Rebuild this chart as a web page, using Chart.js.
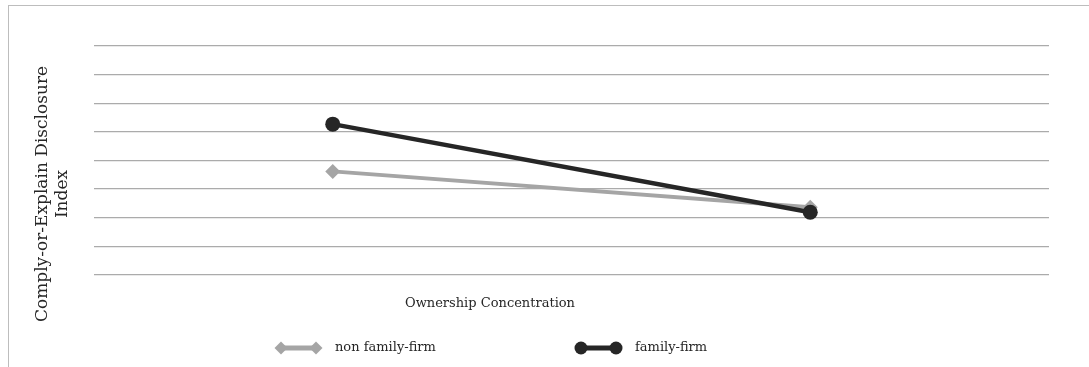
<!DOCTYPE html>
<html>
<head>
<meta charset="utf-8">
<script src="https://cdn.jsdelivr.net/npm/chart.js@4"></script>
<style>
    html, body { margin: 0; padding: 0; background: #ffffff; }
    #wrap { position: relative; width: 1089px; height: 367px; overflow: hidden; }
    #frame {
        position: absolute; left: 8px; top: 5px; width: 1200px; height: 500px;
        border-top: 1.5px solid #bdbdbd; border-left: 1.5px solid #bdbdbd;
    }
    canvas { position: absolute; left: 0; top: 0; }
</style>
</head>
<body>
<div id="wrap">
    <div id="frame"></div>
    <canvas id="grafico" width="1089" height="367"></canvas>
</div>
<script>
// ==========================================
// DADOS
// ==========================================
const categorias = ['Low', 'High'];
const naoFamiliar = [3.62, 2.37];
const familiar = [5.27, 2.19];
const nomesSeries = ['non family-firm', 'family-firm'];
const tituloY = ['Comply-or-Explain Disclosure', 'Index'];
const tituloX = 'Ownership Concentration';

const fonte = '"DejaVu Serif", "Liberation Serif", serif';
const corTexto = '#262626';

// Titulos e legenda desenhados a mao (estilo Excel)
const extras = {
    id: 'extras',
    afterDraw(chart) {
        const ctx = chart.ctx;
        ctx.save();
        ctx.fillStyle = corTexto;
        ctx.textAlign = 'center';
        ctx.textBaseline = 'middle';

        // titulo do eixo Y (girado)
        ctx.font = '17px ' + fonte;
        ctx.save();
        ctx.translate(43, 194);
        ctx.rotate(-Math.PI / 2);
        ctx.fillText(tituloY[0], 0, 0);
        ctx.fillText(tituloY[1], 0, 20);
        ctx.restore();

        // titulo do eixo X
        ctx.font = '13px ' + fonte;
        ctx.fillText(tituloX, 490, 304);

        // legenda
        const itens = chart.data.datasets;
        const posX = [275, 575];
        ctx.textAlign = 'left';
        itens.forEach((ds, i) => {
            const x0 = posX[i], y = 348;
            ctx.strokeStyle = ds.borderColor;
            ctx.lineWidth = 5;
            ctx.beginPath();
            ctx.moveTo(x0 + 6, y);
            ctx.lineTo(x0 + 41, y);
            ctx.stroke();
            ctx.fillStyle = ds.borderColor;
            [x0 + 6, x0 + 41].forEach(cx => {
                ctx.beginPath();
                if (ds.pointStyle === 'circle') {
                    ctx.arc(cx, y, 6.5, 0, Math.PI * 2);
                } else {
                    ctx.moveTo(cx, y - 6.5); ctx.lineTo(cx + 6.5, y);
                    ctx.lineTo(cx, y + 6.5); ctx.lineTo(cx - 6.5, y);
                    ctx.closePath();
                }
                ctx.fill();
            });
            ctx.fillStyle = corTexto;
            ctx.fillText(ds.label, x0 + 60, y);
        });
        ctx.restore();
    }
};

const ctxGrafico = document.getElementById('grafico').getContext('2d');
new Chart(ctxGrafico, {
    type: 'line',
    data: {
        labels: categorias,
        datasets: [
            {
                label: nomesSeries[0], data: naoFamiliar,
                borderColor: '#a5a5a5', backgroundColor: '#a5a5a5',
                borderWidth: 4, pointStyle: 'rectRot', pointRadius: 7.5,
                pointBorderWidth: 0, order: 1
            },
            {
                label: nomesSeries[1], data: familiar,
                borderColor: '#262626', backgroundColor: '#262626',
                borderWidth: 4.5, pointStyle: 'circle', pointRadius: 7.5,
                pointBorderWidth: 0, order: 0
            }
        ]
    },
    options: {
        responsive: false, animation: false,
        layout: { padding: { left: 94, right: 40, top: 46, bottom: 84 } },
        plugins: { legend: { display: false }, tooltip: { enabled: false } },
        scales: {
            x: {
                offset: true,
                ticks: { display: false },
                grid: { display: false },
                border: { display: false }
            },
            y: {
                min: 0, max: 8,
                ticks: { display: false, stepSize: 1 },
                grid: { color: '#ababab', lineWidth: 1.3, drawTicks: false },
                border: { display: false }
            }
        }
    },
    plugins: [extras]
});
</script>
</body>
</html>
